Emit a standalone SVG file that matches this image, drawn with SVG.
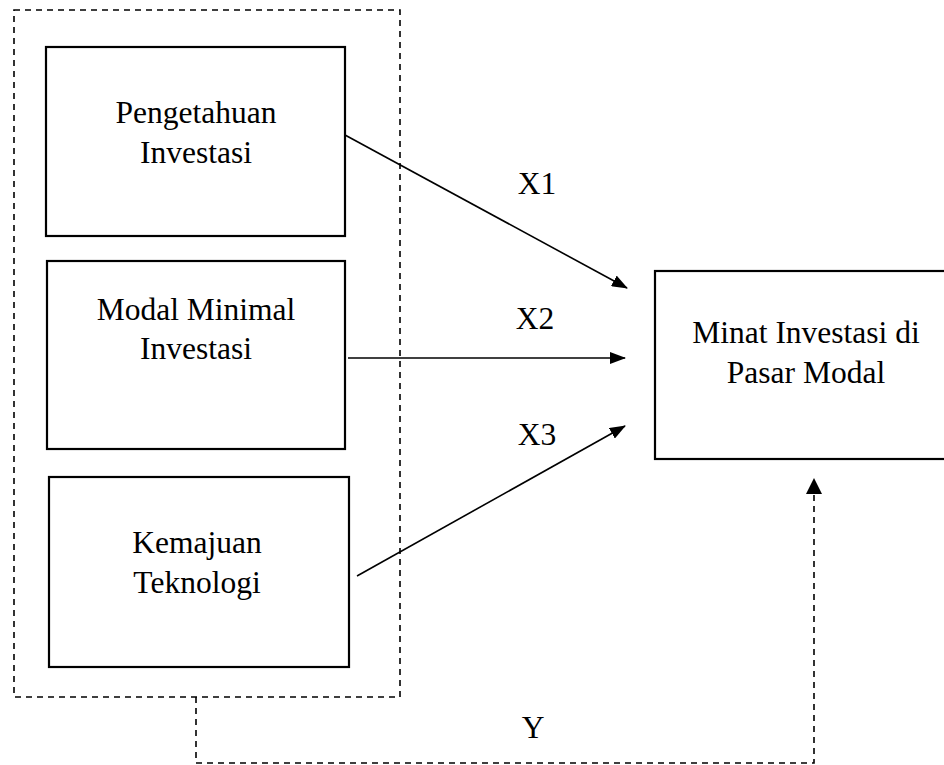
<svg xmlns="http://www.w3.org/2000/svg" width="944" height="765" viewBox="0 0 944 765">
<style>
.box{fill:#fff;stroke:#000;stroke-width:2.2}
.t{font-family:"Liberation Serif","Times New Roman",serif;font-size:31.5px;fill:#000;text-anchor:middle}
.dash{fill:none;stroke:#000;stroke-width:1.6;stroke-dasharray:6 5}
.arr{fill:none;stroke:#000;stroke-width:1.6}
</style>
<defs>
<marker id="ah" markerWidth="16" markerHeight="12" refX="15" refY="6" orient="auto" markerUnits="userSpaceOnUse">
<path d="M0,0 L16,6 L0,12 Z" fill="#000"/>
</marker>
</defs>
<g id="group-frame">
<rect class="dash" x="14" y="10" width="386" height="687"/>
</g>
<g id="node-pengetahuan">
<rect class="box" x="46" y="47" width="299" height="189"/>
<text class="t" x="196" y="123">Pengetahuan</text>
<text class="t" x="196" y="163">Investasi</text>
</g>
<g id="node-modal">
<rect class="box" x="47" y="261" width="298" height="188"/>
<text class="t" x="196" y="320">Modal Minimal</text>
<text class="t" x="196" y="359">Investasi</text>
</g>
<g id="node-teknologi">
<rect class="box" x="49" y="477" width="300" height="190"/>
<text class="t" x="197" y="553">Kemajuan</text>
<text class="t" x="197" y="593">Teknologi</text>
</g>
<g id="node-minat">
<rect class="box" x="655" y="271" width="303" height="188"/>
<text class="t" x="806" y="343">Minat Investasi di</text>
<text class="t" x="806" y="383">Pasar Modal</text>
</g>
<g id="connectors">
<line class="arr" x1="345" y1="135" x2="627" y2="288" marker-end="url(#ah)"/>
<line class="arr" x1="348" y1="358" x2="625" y2="358" marker-end="url(#ah)"/>
<line class="arr" x1="357" y1="576" x2="625" y2="426" marker-end="url(#ah)"/>
<path class="dash" d="M196,697 L196,763 L814,763 L814,494"/>
<path d="M806,494 L814,478 L822,494 Z" fill="#000"/>
<text class="t" x="537" y="194">X1</text>
<text class="t" x="535" y="329">X2</text>
<text class="t" x="537" y="445">X3</text>
<text class="t" x="533" y="738">Y</text>
</g>
</svg>
